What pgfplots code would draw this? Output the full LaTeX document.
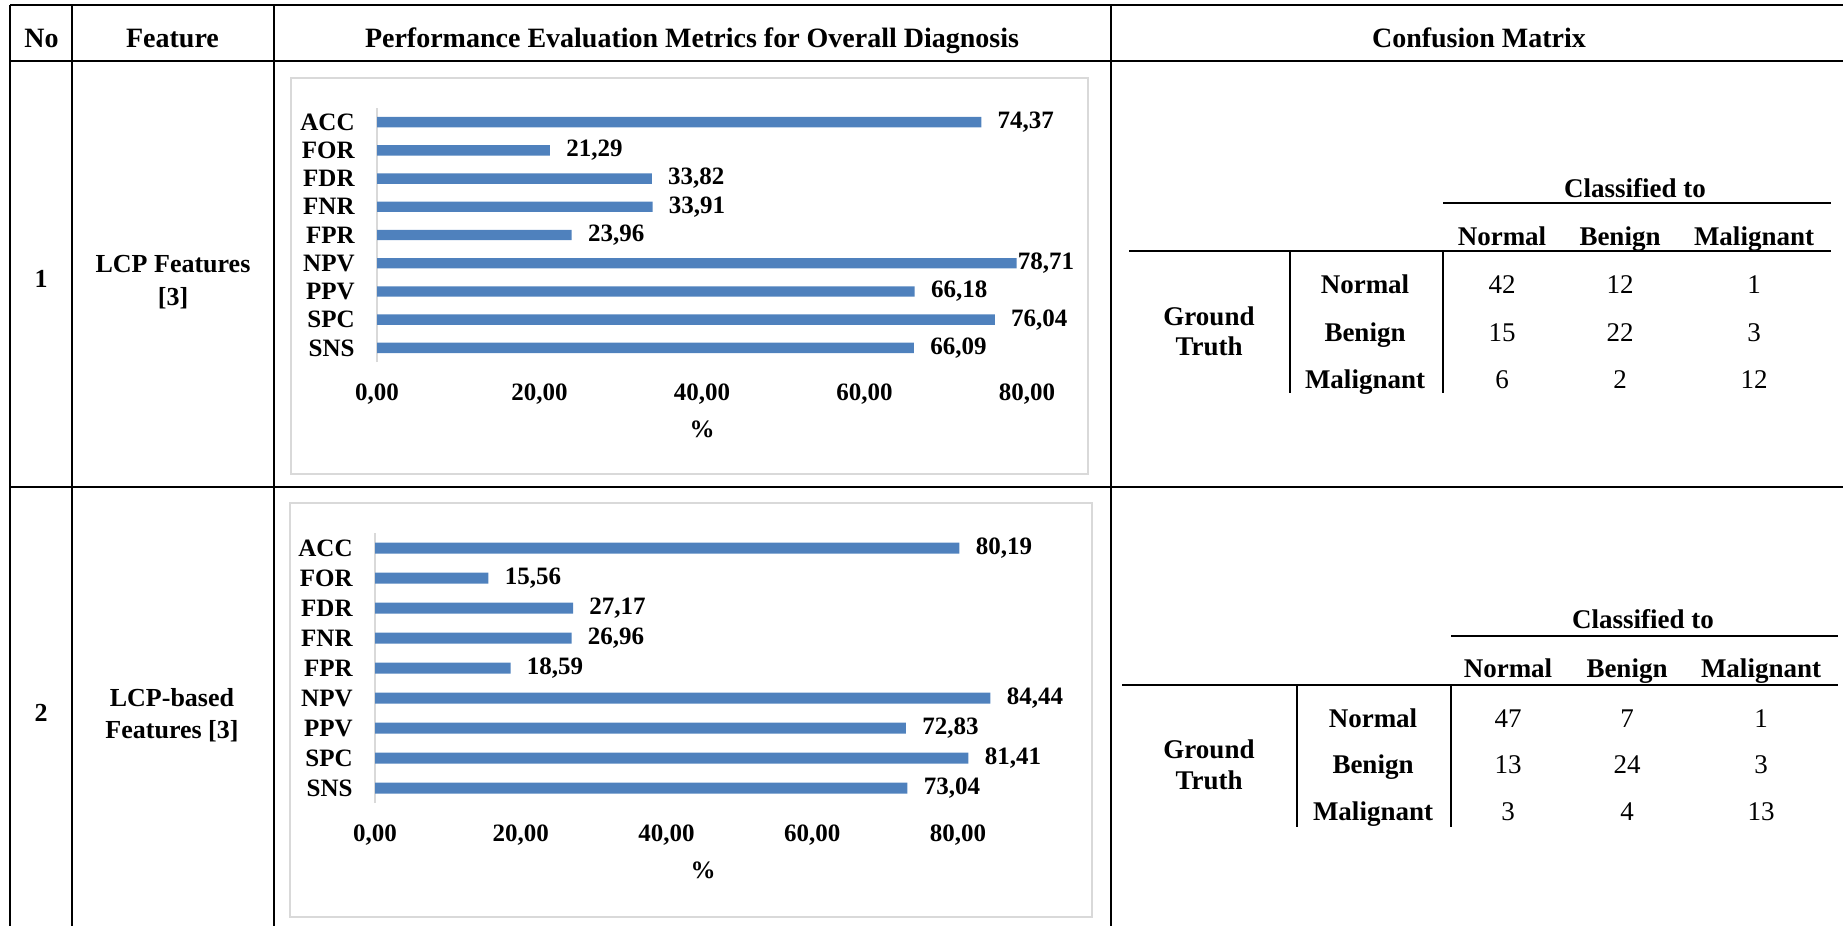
\documentclass[border=0pt]{standalone}
\usepackage{fontspec}
\setmainfont{Liberation Serif}
\usepackage{pgfplots}
\pgfplotsset{compat=1.18}
\usepackage{pgfplotstable}

\definecolor{barblue}{HTML}{4F81BD}
\definecolor{framegray}{HTML}{D9D9D9}

\newcommand\hdrfont{\bfseries\fontsize{14}{16}\selectfont}
\newcommand\bodyfont{\bfseries\fontsize{13}{15}\selectfont}
\newcommand\cmfont{\bfseries\fontsize{13.5}{15}\selectfont}
\newcommand\cmnum{\mdseries\fontsize{13.5}{15}\selectfont}
\newcommand\chartfont{\bfseries\fontsize{12.5}{14}\selectfont}

% pos: 1 = SNS (bottom) ... 9 = ACC (top)
\pgfplotstableread{
pos val
9 74.37
8 21.29
7 33.82
6 33.91
5 23.96
4 78.71
3 66.18
2 76.04
1 66.09
}\lcpmetrics

\pgfplotstableread{
pos val
9 80.19
8 15.56
7 27.17
6 26.96
5 18.59
4 84.44
3 72.83
2 81.41
1 73.04
}\lcpbasedmetrics

\pgfplotsset{
  metricbars/.style={
    scale only axis,
    clip=false,
    xbar,
    xmin=0,
    ymin=0.5, ymax=9.5,
    axis lines*=left,
    x axis line style={draw=none},
    y axis line style={draw=framegray, line width=0.9pt},
    major tick length=0pt,
    xtick={0,20,...,80},
    ytick={1,...,9},
    yticklabels={SNS,SPC,PPV,NPV,FPR,FNR,FDR,FOR,ACC},
    tick label style={font=\chartfont},
    /pgf/number format/fixed,
    /pgf/number format/fixed zerofill,
    /pgf/number format/precision=2,
    /pgf/number format/use comma,
    /pgf/number format/assume math mode=true,
    yticklabel style={anchor=east, inner sep=0pt, xshift=-11pt},
    xticklabel style={anchor=base, inner sep=0pt, yshift=-19pt},
    xlabel={\%},
    xlabel style={at={(axis description cs:0.5,0)}, anchor=base, inner sep=0pt, yshift=-37.5pt, font=\chartfont},
    point meta=x,
    nodes near coords,
    nodes near coords align={horizontal},
  },
  % #1: gap in front of the NPV label (row 4), the others sit 8pt off
  metricplot/.style={
    fill=barblue, draw=none,
    visualization depends on={y \as \rowpos},
    every node near coord/.append style={anchor=west, inner sep=0pt,
      xshift={(\rowpos==4 ? #1 : 8)*1pt}, font=\chartfont, text=black},
  },
}

\begin{document}
\begin{tikzpicture}
\useasboundingbox (0,0) rectangle (921.5pt,-463pt);

\begin{scope}[x=0.5pt, y=-0.5pt]
  % table rules
  \begin{scope}[line width=1pt]
    \draw (10,5) -- (1843,5);
    \draw (10,61) -- (1843,61);
    \draw (10,487) -- (1843,487);
    \foreach \cx in {10,72,274,1111} \draw (\cx,5) -- (\cx,926);
  \end{scope}

  % header
  \node[anchor=base, font=\hdrfont] at (41.5,47) {No};
  \node[anchor=base, font=\hdrfont] at (172.5,47) {Feature};
  \node[anchor=base, font=\hdrfont] at (692,47) {Performance Evaluation Metrics for Overall Diagnosis};
  \node[anchor=base, font=\hdrfont] at (1479,47) {Confusion Matrix};

  % row labels
  \node[anchor=base, font=\bodyfont] at (41,287) {1};
  \node[anchor=base, font=\bodyfont] at (173,272) {LCP Features};
  \node[anchor=base, font=\bodyfont] at (173,305) {[3]};
  \node[anchor=base, font=\bodyfont] at (41,721) {2};
  \node[anchor=base, font=\bodyfont] at (172,706) {LCP-based};
  \node[anchor=base, font=\bodyfont] at (172,738) {Features [3]};

  % chart frames
  \draw[framegray, line width=1pt] (291,78) rectangle (1088,474);
  \draw[framegray, line width=1pt] (290,503) rectangle (1092,917);

  % confusion matrix 1
  \node[anchor=base, font=\cmfont] at (1635,197) {Classified to};
  \draw[line width=1pt] (1443,203) -- (1831,203);
  \node[anchor=base, font=\cmfont] at (1502,245) {Normal};
  \node[anchor=base, font=\cmfont] at (1620,245) {Benign};
  \node[anchor=base, font=\cmfont] at (1754,245) {Malignant};
  \draw[line width=1pt] (1129,251) -- (1831,251);
  \draw[line width=1pt] (1290,251) -- (1290,393);
  \draw[line width=1pt] (1443,251) -- (1443,393);
  \node[anchor=base, font=\cmfont] at (1209,325) {Ground};
  \node[anchor=base, font=\cmfont] at (1209,355) {Truth};
  \node[anchor=base, font=\cmfont] at (1365,293) {Normal};
  \node[anchor=base, font=\cmfont] at (1365,341) {Benign};
  \node[anchor=base, font=\cmfont] at (1365,388) {Malignant};
  \node[anchor=base, font=\cmnum] at (1502,293) {42};
  \node[anchor=base, font=\cmnum] at (1620,293) {12};
  \node[anchor=base, font=\cmnum] at (1754,293) {1};
  \node[anchor=base, font=\cmnum] at (1502,341) {15};
  \node[anchor=base, font=\cmnum] at (1620,341) {22};
  \node[anchor=base, font=\cmnum] at (1754,341) {3};
  \node[anchor=base, font=\cmnum] at (1502,388) {6};
  \node[anchor=base, font=\cmnum] at (1620,388) {2};
  \node[anchor=base, font=\cmnum] at (1754,388) {12};

  % confusion matrix 2
  \node[anchor=base, font=\cmfont] at (1643,628) {Classified to};
  \draw[line width=1pt] (1451,636) -- (1838,636);
  \node[anchor=base, font=\cmfont] at (1508,677) {Normal};
  \node[anchor=base, font=\cmfont] at (1627,677) {Benign};
  \node[anchor=base, font=\cmfont] at (1761,677) {Malignant};
  \draw[line width=1pt] (1122,685) -- (1838,685);
  \draw[line width=1pt] (1297,685) -- (1297,827);
  \draw[line width=1pt] (1451,685) -- (1451,827);
  \node[anchor=base, font=\cmfont] at (1209,758) {Ground};
  \node[anchor=base, font=\cmfont] at (1209,789) {Truth};
  \node[anchor=base, font=\cmfont] at (1373,727) {Normal};
  \node[anchor=base, font=\cmfont] at (1373,773) {Benign};
  \node[anchor=base, font=\cmfont] at (1373,820) {Malignant};
  \node[anchor=base, font=\cmnum] at (1508,727) {47};
  \node[anchor=base, font=\cmnum] at (1627,727) {7};
  \node[anchor=base, font=\cmnum] at (1761,727) {1};
  \node[anchor=base, font=\cmnum] at (1508,773) {13};
  \node[anchor=base, font=\cmnum] at (1627,773) {24};
  \node[anchor=base, font=\cmnum] at (1761,773) {3};
  \node[anchor=base, font=\cmnum] at (1508,820) {3};
  \node[anchor=base, font=\cmnum] at (1627,820) {4};
  \node[anchor=base, font=\cmnum] at (1761,820) {13};
\end{scope}

% metrics, LCP features
\begin{axis}[metricbars,
  at={(188.5pt,-181pt)}, anchor=south west,
  width=325pt, height=127pt, xmax=80, bar width=5.2pt]
  \addplot[metricplot=0.5] table[x=val, y=pos] {\lcpmetrics};
\end{axis}

% metrics, LCP-based features
\begin{axis}[metricbars,
  at={(187.5pt,-401.5pt)}, anchor=south west,
  width=328pt, height=135pt, xmax=90, bar width=5.5pt]
  \addplot[metricplot=8] table[x=val, y=pos] {\lcpbasedmetrics};
\end{axis}
\end{tikzpicture}
\end{document}
